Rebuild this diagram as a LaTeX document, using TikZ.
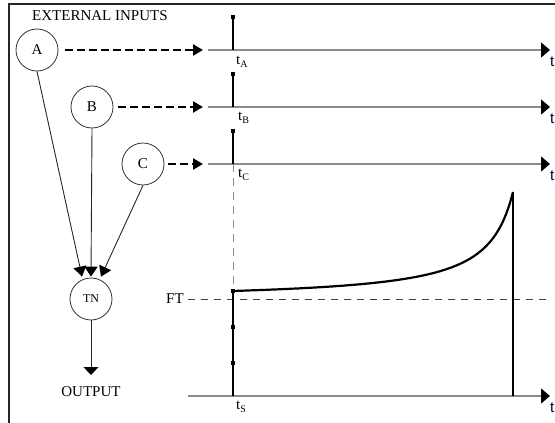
\documentclass[tikz,border=0pt]{standalone}
\usepackage{fontspec}
\setmainfont{Liberation Serif}
\newfontfamily\sansf{Liberation Sans}
\usetikzlibrary{arrows.meta}
\newcommand\subs[1]{\raisebox{-3pt}{\fontsize{10}{10}\selectfont #1}}
\begin{document}
\begin{tikzpicture}[x=1pt,y=-1pt,
  circ/.style={circle,draw=black!80,line width=0.8pt,minimum size=42pt,inner sep=0pt,font=\fontsize{15}{18}\selectfont},
  conn/.style={line width=0.9pt,draw=black!85,-{Triangle[length=10pt,width=13pt,black]}},
  outarrow/.style={line width=0.9pt,draw=black!85,-{Triangle[length=8pt,width=15pt,black]}},
  dasharrow/.style={line width=2.3pt,dash pattern=on 8pt off 4pt,-{Triangle[length=10pt,width=11pt,black]}},
  taxis/.style={line width=1.5pt,draw=black!45,-{Triangle[length=9pt,width=15pt,black]}},
  imp/.style={line width=2.7pt,draw=black},
  sq/.style={fill=black,minimum size=4.5pt,inner sep=0pt},
  txt/.style={font=\fontsize{15}{18}\selectfont,inner sep=0pt},
  tlab/.style={font=\fontsize{15}{18}\selectfont,inner sep=0pt,anchor=west},
  tend/.style={font=\sansf\fontsize{15}{18}\selectfont,inner sep=0pt,anchor=west,text=black!85!blue},
  guide/.style={line width=0.9pt,draw=black!45,dash pattern=on 8pt off 6pt},
  ftline/.style={line width=0.9pt,draw=black!75,dash pattern=on 7pt off 6pt}
]
\useasboundingbox (0,0) rectangle (555,423);
% frame
\draw[line width=1.3pt,black!85] (9,423) -- (9,4) -- (555,4);

\node[txt,anchor=west] (ext) at (32,16) {EXTERNAL INPUTS};

% input circles
\node[circ] (A) at (37,50) {A};
\node[circ] (B) at (92,107) {B};
\node[circ] (C) at (143,164) {C};
\node[circ,font=\fontsize{12}{14}\selectfont] (TN) at (91,299) {TN};

% time axes
\coordinate (axA) at (208,50);
\coordinate (axB) at (208,107);
\coordinate (axC) at (208,164);
\coordinate (axS) at (188,396);
\coordinate (endA) at (550,50);
\coordinate (endB) at (550,107);
\coordinate (endC) at (550,164);
\coordinate (endS) at (550,396);
\draw[taxis] (axA) -- (endA);
\draw[taxis] (axB) -- (endB);
\draw[taxis] (axC) -- (endC);
\draw[taxis] (axS) -- (endS);

\node[tend] (tA) at (550,62) {t};
\node[tend] (tB) at (550,119) {t};
\node[tend] (tC) at (550,176) {t};
\node[tend] (tS) at (550,408) {t};

% dashed input arrows
\draw[dasharrow] ([xshift=7pt]A.east) -- ([xshift=-5pt]axA);
\draw[dasharrow] ([xshift=5pt]B.east) -- ([xshift=-5pt]axB);
\draw[dasharrow] ([xshift=4pt]C.east) -- ([xshift=-5pt]axC);

% impulses
\coordinate (iA0) at (233,50);
\coordinate (iB0) at (233,107);
\coordinate (iC0) at (233,164);
\node[sq] (iA) at (233,17) {};
\node[sq] (iB) at (233,74) {};
\node[sq] (iC) at (233,131) {};
\draw[imp] (iA0) -- (iA.center);
\draw[imp] (iB0) -- (iB.center);
\draw[imp] (iC0) -- (iC.center);

\node[tlab] (lA) at (236,62) {t\subs{A}};
\node[tlab] (lB) at (238,118) {t\subs{B}};
\node[tlab] (lC) at (238,175) {t\subs{C}};
\node[tlab] (lS) at (236,407) {t\subs{S}};

% connectors to TN
\draw[conn] (A.south) -- ([xshift=-9pt,yshift=1pt]TN.north);
\draw[conn] (B.south) -- ([yshift=1pt]TN.north);
\draw[conn] (C.south) -- ([xshift=10pt,yshift=1pt]TN.north);
\coordinate (out) at (91,375);
\draw[outarrow] (TN.south) -- (out);
\node[txt] (output) at (91,392) {OUTPUT};

% potential
\node[sq] (s0) at (233,291) {};
\node[sq] (s1) at (233,327) {};
\node[sq] (s2) at (233,363) {};
\coordinate (base) at (233,396);
\draw[guide] (iC0) -- (s0.center);
\node[txt] (FT) at (175,299) {FT};
\coordinate (ftend) at (549,299);
\draw[ftline] ([xshift=4pt]FT.east) -- (ftend);
\draw[imp] (base) -- (s0.center);
\draw[line width=2.2pt,line join=round] plot[domain=233:513,samples=80,smooth] (\x,{291-2931*(1/(540-\x)-1/307)});
\coordinate (peak) at (513,192);
\coordinate (peakb) at (513,396);
\draw[imp] (peak) -- (peakb);
\end{tikzpicture}
\end{document}
